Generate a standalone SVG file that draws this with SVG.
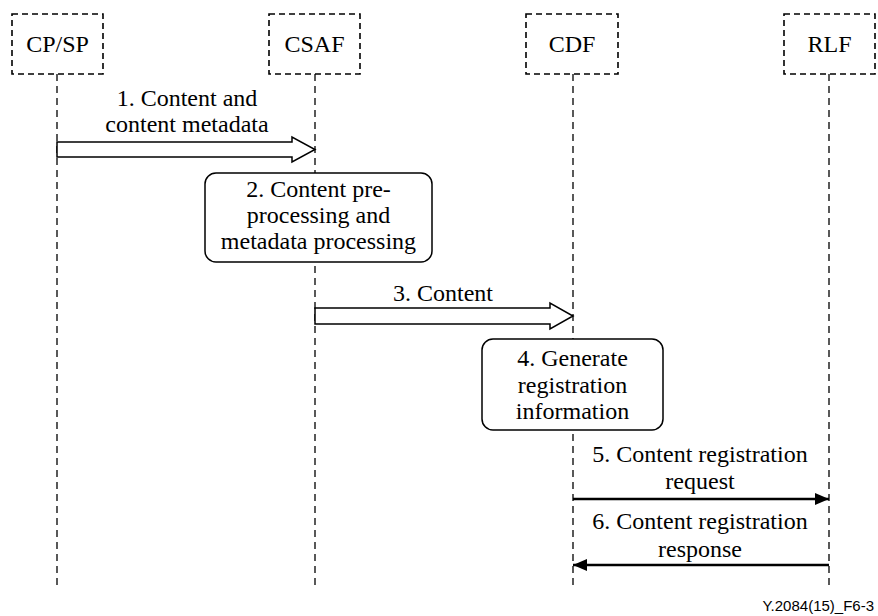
<svg xmlns="http://www.w3.org/2000/svg" width="878" height="616" viewBox="0 0 878 616">
  <style>
    .ent { fill: #fff; stroke: #000; stroke-width: 1.6; stroke-dasharray: 6 4; }
    .life { stroke: #000; stroke-width: 1.3; stroke-dasharray: 7 5; fill: none; }
    .proc { fill: #fff; stroke: #000; stroke-width: 1.5; }
    .fat { fill: #fff; stroke: #000; stroke-width: 1.5; stroke-linejoin: miter; }
    .msg { stroke: #000; stroke-width: 2.5; fill: none; }
    text { font-family: "Liberation Serif", "Times New Roman", serif; font-size: 24px; fill: #000; text-anchor: middle; }
    .foot { font-family: "Liberation Sans", Arial, sans-serif; font-size: 15px; text-anchor: end; }
  </style>
  <defs>
    <marker id="solid" viewBox="0 0 14 12" refX="14" refY="6" markerWidth="14" markerHeight="12" markerUnits="userSpaceOnUse" orient="auto">
      <path d="M0,0 L14,6 L0,12 Z" fill="#000"/>
    </marker>
  </defs>
  <rect width="878" height="616" fill="#fff"/>

  <!-- lifelines -->
  <g id="lifelines">
    <line class="life" x1="57" y1="74" x2="57" y2="590"/>
    <line class="life" x1="315" y1="74" x2="315" y2="590"/>
    <line class="life" x1="573" y1="74" x2="573" y2="590"/>
    <line class="life" x1="829" y1="74" x2="829" y2="590"/>
  </g>

  <!-- functional entities -->
  <g id="cpsp">
    <rect class="ent" x="12" y="14" width="91" height="60"/>
    <text x="57.5" y="52">CP/SP</text>
  </g>
  <g id="csaf">
    <rect class="ent" x="269" y="14" width="91" height="60"/>
    <text x="314.5" y="52">CSAF</text>
  </g>
  <g id="cdf">
    <rect class="ent" x="526" y="14" width="92" height="60"/>
    <text x="572" y="52">CDF</text>
  </g>
  <g id="rlf">
    <rect class="ent" x="784" y="14" width="91" height="60"/>
    <text x="829.5" y="52">RLF</text>
  </g>

  <!-- processing steps -->
  <g id="step2">
    <rect class="proc" x="205" y="173" width="227" height="89" rx="11"/>
    <text x="318.5" y="197">2. Content pre-</text>
    <text x="318.5" y="223">processing and</text>
    <text x="318.5" y="249">metadata processing</text>
  </g>
  <g id="step4">
    <rect class="proc" x="482" y="339" width="181" height="91" rx="11"/>
    <text x="572.5" y="366">4. Generate</text>
    <text x="572.5" y="393">registration</text>
    <text x="572.5" y="419">information</text>
  </g>

  <!-- messages -->
  <g id="connectors">
    <polygon class="fat" points="57,142 292,142 292,137 315,149.5 292,162 292,157 57,157"/>
    <text x="187" y="106">1. Content and</text>
    <text x="187" y="132">content metadata</text>

    <polygon class="fat" points="315,308 550,308 550,303 573,316 550,329 550,324 315,324"/>
    <text x="443" y="301">3. Content</text>

    <line class="msg" x1="573" y1="499" x2="829" y2="499" marker-end="url(#solid)"/>
    <text x="700" y="462">5. Content registration</text>
    <text x="700" y="489">request</text>

    <line class="msg" x1="829" y1="565" x2="573" y2="565" marker-end="url(#solid)"/>
    <text x="700" y="529">6. Content registration</text>
    <text x="700" y="557">response</text>
  </g>

  <text class="foot" x="874" y="611">Y.2084(15)_F6-3</text>
</svg>
